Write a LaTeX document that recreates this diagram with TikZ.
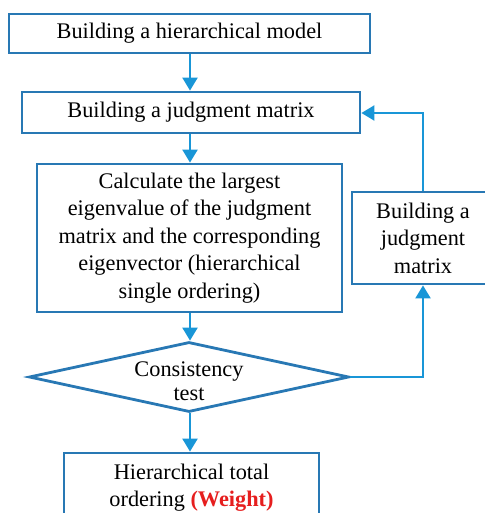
\documentclass[tikz,border=0pt]{standalone}
\usepackage{fontspec}
\setmainfont{Liberation Serif}
\usetikzlibrary{shapes.geometric,arrows.meta}
\definecolor{boxblue}{RGB}{40,120,180}
\definecolor{arrblue}{RGB}{25,150,215}
\definecolor{wred}{RGB}{230,30,30}
\tikzset{
  box/.style={draw=boxblue, line width=2.8pt, rectangle, inner sep=0pt, align=center,
    font=\fontsize{22.3}{27.5}\selectfont},
  arr/.style={draw=arrblue, line width=2.2pt, -{Triangle[width=15pt,length=13pt]}},
}
\begin{document}
\begin{tikzpicture}[x=1pt,y=-1pt]
\useasboundingbox (0,0) rectangle (484,513);
\node[box, minimum width=361pt, minimum height=39pt] (b1) at (189.5,33.5) {Building a hierarchical model};
\node[box, minimum width=338pt, minimum height=41pt] (b2) at (191,112.5) {Building a judgment matrix};
\node[box, minimum width=305pt, minimum height=148pt] (b3) at (189.5,238) {Calculate the largest\\eigenvalue of the judgment\\matrix and the corresponding\\eigenvector (hierarchical\\single ordering)};
\node[box, minimum width=142pt, minimum height=92pt] (b4) at (423,238) {Building a\\judgment\\matrix};
\node[draw=boxblue, line width=2.8pt, diamond, minimum width=320pt, minimum height=70pt, inner sep=0pt] (d) at (189,377) {};
\node[align=center, font=\fontsize{22.3}{24}\selectfont] (dt) at ([yshift=-4pt]d.center) {Consistency\\test};
\node[box, minimum width=255pt, minimum height=69pt] (b5) at (191.5,487.5) {Hierarchical total\\ordering \textcolor{wred}{\textbf{(Weight)}}};
\coordinate (c1) at (423,377);
\coordinate (c2) at (423,113);
\draw[arr] (b1.south -| 190,0) -- (b2.north -| 190,0);
\draw[arr] (b2.south -| 190,0) -- (b3.north -| 190,0);
\draw[arr] (b3.south -| 190,0) -- (d.north -| 190,0);
\draw[arr] (d.south -| 190,0) -- (b5.north -| 190,0);
\draw[arr] (d.east) -- (c1) -- (b4.south);
\draw[arr] (b4.north) -- (c2) -- (c2 -| b2.east);
\end{tikzpicture}
\end{document}
